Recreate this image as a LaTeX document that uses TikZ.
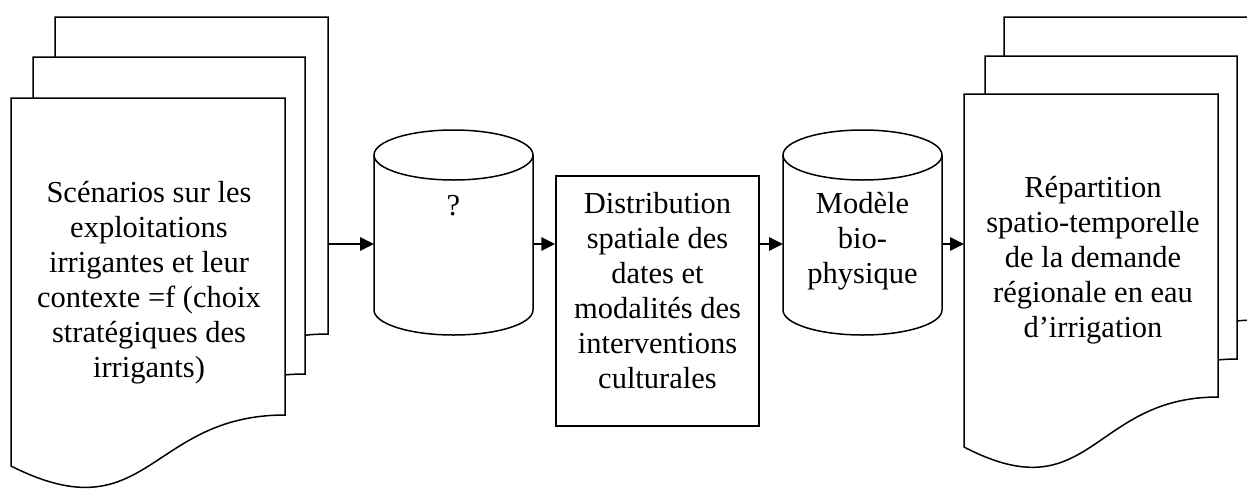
\documentclass[tikz,border=0pt]{standalone}
\usepackage{fontspec}
\setmainfont{Liberation Serif}
\usetikzlibrary{arrows.meta,fit}
\newcommand\docshape[6]{\draw[shp] (#1,-#3) -- (#2,-#3) -- (#2,-#4) .. controls ({(#1+#2)/2},-#4) and ({(#1+#2)/2},-#5) .. (#1,-#6) -- cycle;}
\newcommand\cylshape[2]{%
  \draw[shp] (#1,-155) -- (#1,-310) arc[start angle=180, end angle=360, x radius={(#2-#1)/2}, y radius=25] -- (#2,-155);
  \draw[shp] ({(#1+#2)/2},-155) ellipse[x radius={(#2-#1)/2}, y radius=25];}
\begin{document}
\begin{tikzpicture}[x=1pt,y=1pt,
  shp/.style={draw=black, line width=1.5pt, fill=white, line join=miter},
  lbl/.style={align=center, inner sep=0, font=\fontsize{30.5}{35}\selectfont},
  frame/.style={inner sep=0, outer sep=0, draw=none},
  arr/.style={line width=2.8pt, -{Triangle[length=14pt,width=13pt]}}]
\useasboundingbox (0,0) rectangle (1247,-488);
\clip (0,0) rectangle (1247,-488);
% left multi-document
\docshape{55}{328}{17}{334}{454}{385}
\docshape{33}{305}{57}{374}{494}{425}
\docshape{11}{285}{98}{415}{535}{466}
\node[frame, fit={(11,-17) (328,-487)}] (docL) {};
\node[lbl] (tL) at (149,-282.5) {\strut Scénarios sur les\\ exploitations\\ irrigantes et leur\\ contexte =f (choix\\ stratégiques des\\ irrigants)\strut};
% cylinder 1
\cylshape{374}{533}
\node[frame, fit={(374,-130) (533,-335)}] (cylA) {};
\node[lbl] (tA) at (453.5,-208) {\strut ?};
% box
\node[draw, line width=1.5pt, minimum width=203pt, minimum height=250pt, inner sep=0] (box) at (657.5,-301) {};
\node[lbl] (tB) at (657.5,-293.5) {\strut Distribution\\ spatiale des\\ dates et\\ modalités des\\ interventions\\ culturales\strut};
% cylinder 2
\cylshape{783}{942}
\node[frame, fit={(783,-130) (942,-335)}] (cylB) {};
\node[lbl] (tC) at (862.5,-241) {\strut Modèle\\ bio-\\ physique\strut};
% right multi-document
\docshape{1004}{1256}{17}{320}{436}{370}
\docshape{985}{1237}{56}{359}{475}{409}
\docshape{964}{1218}{94}{397}{513}{447}
\node[frame, fit={(964,-17) (1256,-470)}] (docR) {};
\node[lbl] (tR) at (1093,-260.5) {\strut Répartition\\ spatio-temporelle\\ de la demande\\ régionale en eau\\ d’irrigation\strut};
% arrows
\draw[arr] (docL.east |- 0,-244) -- (cylA.west |- 0,-244);
\draw[arr] (cylA.east |- 0,-244) -- (box.west |- 0,-244);
\draw[arr] (box.east |- 0,-244) -- (cylB.west |- 0,-244);
\draw[arr] (cylB.east |- 0,-244) -- (docR.west |- 0,-244);
\end{tikzpicture}
\end{document}
